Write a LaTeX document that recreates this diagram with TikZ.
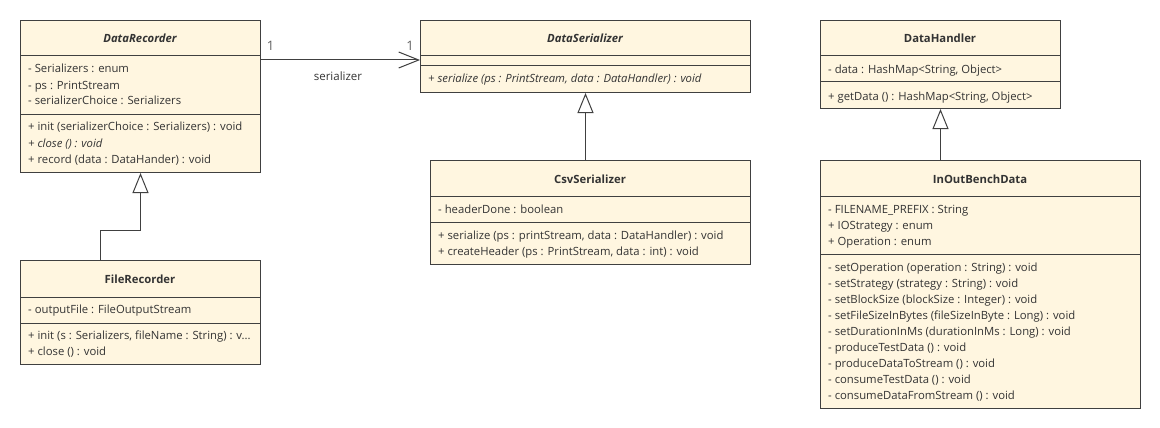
\documentclass[tikz,border=0pt]{standalone}
\usepackage{fontspec}
\setmainfont{Open Sans}
\usetikzlibrary{arrows.meta,calc}
\definecolor{boxfill}{HTML}{FFF6E0}
\definecolor{boxline}{HTML}{404040}
\definecolor{txtcol}{HTML}{333333}
\definecolor{mulcol}{HTML}{606060}
\newcommand{\mfont}{\fontsize{11.3pt}{13pt}\selectfont}
\tikzset{
  classbox/.style={draw=boxline, fill=boxfill, line width=1pt, rectangle, inner sep=0pt, anchor=north west},
  divider/.style={draw=boxline, line width=1pt},
  member/.style={anchor=base west, yshift=-4pt, inner sep=0pt, text=txtcol, font=\mfont},
  imember/.style={member, font=\mfont\itshape},
  ctitle/.style={anchor=base, yshift=-4pt, inner sep=0pt, text=txtcol, font=\mfont\bfseries},
  atitle/.style={ctitle, font=\mfont\bfseries\itshape},
  conn/.style={draw=boxline, line width=1pt},
  gen/.style={conn, -{Triangle[open, length=20pt, width=16pt, fill=white, line width=1pt]}},
  assoc/.style={conn, -{Straight Barb[length=20pt, width=16pt, line width=1pt]}},
  mult/.style={anchor=base, yshift=-5pt, inner sep=0pt, text=mulcol, font=\fontsize{13pt}{15pt}\selectfont},
  rolelab/.style={anchor=base, yshift=-4pt, inner sep=0pt, text=txtcol, font=\fontsize{11.5pt}{13pt}\selectfont},
}
\begin{document}
\begin{tikzpicture}[x=1pt, y=-1pt]
\useasboundingbox (0,0) rectangle (1160,428);

% ---------- DataRecorder ----------
\node[classbox, minimum width=240pt, minimum height=152pt] (dr) at (20,20) {};
\draw[divider] (20,56) -- (260,56);
\draw[divider] (20,114) -- (260,114);
\node[atitle] (drt) at (140,39) {DataRecorder};
\node[member] (dra1) at (28,69) {- Serializers : enum};
\node[member] (dra2) at (28,85) {- ps : PrintStream};
\node[member] (dra3) at (28,101) {- serializerChoice : Serializers};
\node[member] (drm1) at (28,127) {+ init (serializerChoice : Serializers) : void};
\node[imember] (drm2) at (28,143) {+ close () : void};
\node[member] (drm3) at (28,159) {+ record (data : DataHander) : void};

% ---------- FileRecorder ----------
\node[classbox, minimum width=240pt, minimum height=104pt] (fr) at (20,260) {};
\draw[divider] (20,297) -- (260,297);
\draw[divider] (20,323) -- (260,323);
\node[ctitle] (frt) at (140,279) {FileRecorder};
\node[member] (fra1) at (28,309) {- outputFile : FileOutputStream};
\node[member] (frm1) at (28,335) {+ init (s : Serializers, fileName : String) : v...};
\node[member] (frm2) at (28,351) {+ close () : void};

% ---------- DataSerializer ----------
\node[classbox, minimum width=330pt, minimum height=72pt] (ds) at (420,20) {};
\draw[divider] (420,56) -- (750,56);
\draw[divider] (420,66) -- (750,66);
\node[atitle] (dst) at (585,39) {DataSerializer};
\node[imember] (dsm1) at (428,79) {+ serialize (ps : PrintStream, data : DataHandler) : void};

% ---------- CsvSerializer ----------
\node[classbox, minimum width=320pt, minimum height=104pt] (cs) at (430,160) {};
\draw[divider] (430,196) -- (750,196);
\draw[divider] (430,222) -- (750,222);
\node[ctitle] (cst) at (590,179) {CsvSerializer};
\node[member] (csa1) at (438,209) {- headerDone : boolean};
\node[member] (csm1) at (438,235) {+ serialize (ps : printStream, data : DataHandler) : void};
\node[member] (csm2) at (438,251) {+ createHeader (ps : PrintStream, data : int) : void};

% ---------- DataHandler ----------
\node[classbox, minimum width=240pt, minimum height=88pt] (dh) at (820,20) {};
\draw[divider] (820,56) -- (1060,56);
\draw[divider] (820,82) -- (1060,82);
\node[ctitle] (dht) at (940,39) {DataHandler};
\node[member] (dha1) at (828,70) {- data : HashMap<String, Object>};
\node[member] (dhm1) at (828,96) {+ getData () : HashMap<String, Object>};

% ---------- InOutBenchData ----------
\node[classbox, minimum width=320pt, minimum height=248pt] (io) at (820,160) {};
\draw[divider] (820,196) -- (1140,196);
\draw[divider] (820,254) -- (1140,254);
\node[ctitle] (iot) at (980,179) {InOutBenchData};
\node[member] (ioa1) at (828,209) {- FILENAME\_PREFIX : String};
\node[member] (ioa2) at (828,225) {+ IOStrategy : enum};
\node[member] (ioa3) at (828,241) {+ Operation : enum};
\node[member] (iom1) at (828,267) {- setOperation (operation : String) : void};
\node[member] (iom2) at (828,283) {- setStrategy (strategy : String) : void};
\node[member] (iom3) at (828,299) {- setBlockSize (blockSize : Integer) : void};
\node[member] (iom4) at (828,315) {- setFileSizeInBytes (fileSizeInByte : Long) : void};
\node[member] (iom5) at (828,331) {- setDurationInMs (durationInMs : Long) : void};
\node[member] (iom6) at (828,347) {- produceTestData () : void};
\node[member] (iom7) at (828,363) {- produceDataToStream () : void};
\node[member] (iom8) at (828,379) {- consumeTestData () : void};
\node[member] (iom9) at (828,395) {- consumeDataFromStream () : void};

% ---------- Connectors ----------
\draw[assoc] ($(dr.north east)+(0,40)$) -- ($(ds.north west)+(0,40)$);
\node[mult] (m1) at (270.5,46) {1};
\node[mult] (m2) at (410,46) {1};
\node[rolelab] (rl) at (338,77) {serializer};

\draw[gen] (cs.north -| ds.south) -- (ds.south);
\draw[gen] (io.north -| dh.south) -- (dh.south);
\draw[gen] ($(fr.north west)+(80,0)$) -- ++(0,-30) -| (dr.south);
\end{tikzpicture}
\end{document}
